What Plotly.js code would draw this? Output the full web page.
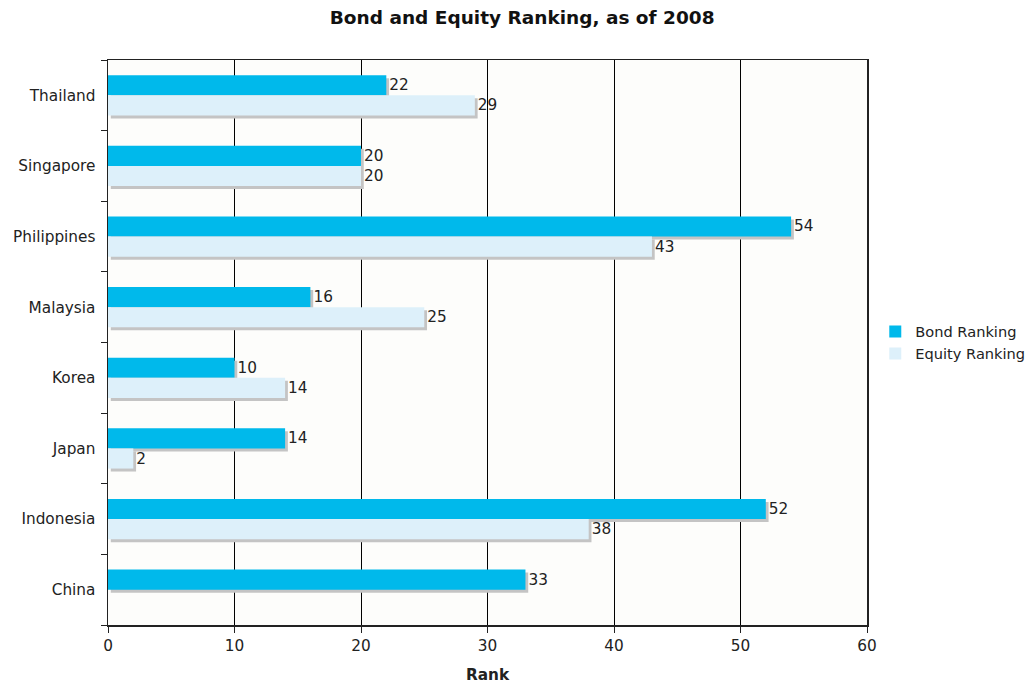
<!DOCTYPE html>
<html><head><meta charset="utf-8">
<script src="https://cdn.plot.ly/plotly-3.0.1.min.js"></script>
<style>body{margin:0;background:#fff}#chart{width:1034px;height:685px}</style>
</head><body><div id="chart"></div>
<script>
const countries = ['China','Indonesia','Japan','Korea','Malaysia','Philippines','Singapore','Thailand'];
const bondRanking = [33, 52, 14, 10, 16, 54, 20, 22];
const equityRanking = [null, 38, 2, 14, 25, 43, 20, 29];
const xTicks = [0, 10, 20, 30, 40, 50, 60];

const W = 0.285;
const shX = 0.22, shY = 0.042;
const font = "DejaVu Sans, Verdana, sans-serif";
const FS = 15.3;
function shadow(vals, off){
  return {type:'bar', orientation:'h', y:countries, x:vals, base:shX, offset:off - shY, width:W,
    marker:{color:'#c4c4c4'}, showlegend:false, hoverinfo:'skip'};
}
const traces = [
  shadow(bondRanking, 0),
  shadow(equityRanking, -W),
  {type:'bar', orientation:'h', name:'Bond Ranking', y:countries, x:bondRanking, offset:0, width:W,
   marker:{color:'#00b9eb'}, text:bondRanking.map(String), textposition:'outside', cliponaxis:false,
   textfont:{size:FS,color:'#222',family:font}},
  {type:'bar', orientation:'h', name:'Equity Ranking', y:countries, x:equityRanking, offset:-W, width:W,
   marker:{color:'#ddf0fa'}, text:equityRanking.map(v=>v==null?'':String(v)), textposition:'outside', cliponaxis:false,
   textfont:{size:FS,color:'#222',family:font}}
];
const layout = {
  width:1034, height:685,
  margin:{l:108, r:167, t:60, b:60, autoexpand:false},
  barmode:'overlay',
  paper_bgcolor:'#ffffff', plot_bgcolor:'#fdfdfb',
  font:{family:font, size:FS, color:'#222'},
  title:{text:'<b>Bond and Equity Ranking, as of 2008</b>', x:0.505, xref:'container', y:0.975, yanchor:'middle', font:{size:18.5, color:'#111', family:font}},
  xaxis:{range:[0,60], tickvals:xTicks, ticktext:xTicks.map(String), showgrid:true, gridcolor:'#000', gridwidth:1,
    showline:true, linecolor:'#222', linewidth:1.5, mirror:true, ticks:'outside', ticklen:6, tickcolor:'#222',
    zeroline:false, title:{text:'<b>Rank</b>', font:{size:FS, family:font}, standoff:15}, fixedrange:true},
  yaxis:{type:'category', categoryorder:'array', categoryarray:countries, tickson:'boundaries', ticks:'outside', ticklen:6,
    tickcolor:'#222', showline:true, linecolor:'#222', linewidth:1.5, mirror:true, showgrid:false, ticklabelstandoff:8,
    fixedrange:true},
  legend:{xref:'container', x:0.8465, xanchor:'left', y:0.5, yanchor:'middle', font:{size:14.6, family:font}, traceorder:'normal',
    itemwidth:30, tracegroupgap:0},
  showlegend:true, hovermode:false
};
Plotly.newPlot('chart', traces, layout, {displayModeBar:false, staticPlot:true});
</script></body></html>
